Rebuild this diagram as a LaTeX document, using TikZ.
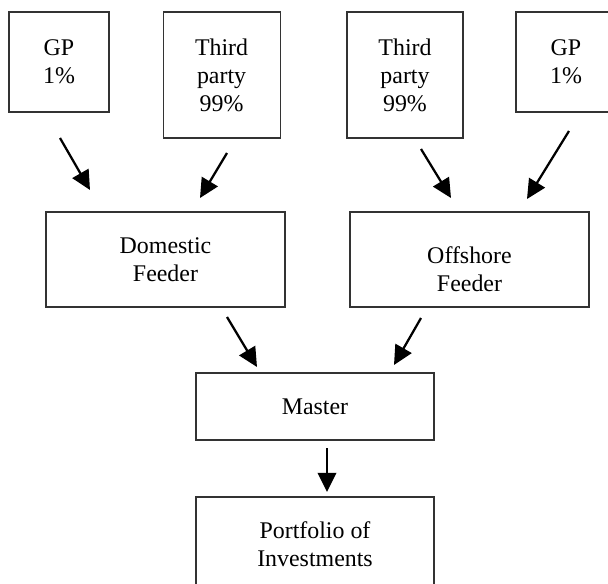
\documentclass[tikz,border=0pt]{standalone}
\usepackage{fontspec}
\setmainfont{Liberation Serif}
\usetikzlibrary{arrows.meta}

\begin{document}
\begin{tikzpicture}
    \tikzstyle{B}=[rectangle,draw=black!80,line width=0.75pt,align=center,font=\fontsize{17}{20}\selectfont]
    \tikzstyle{A}=[-{Triangle[length=0.48cm,width=0.46cm]},line width=1.6pt]

    % Frame
    \useasboundingbox (0,0) rectangle (15.2,-14.6);
    \clip (0,0) rectangle (15.2,-14.6);

    % Investors
    \node [B,minimum width=2.5cm,minimum height=2.5cm] (gpL) at (1.475,-1.55) {GP\\1\%};
    \node [B,minimum width=2.925cm,minimum height=3.15cm] (tpL) at (5.54,-1.875) {Third\\party\\99\%};
    \node [B,minimum width=2.9cm,minimum height=3.15cm] (tpR) at (10.125,-1.875) {Third\\party\\99\%};
    \node [B,minimum width=2.5cm,minimum height=2.5cm] (gpR) at (14.15,-1.55) {GP\\1\%};

    % Feeders
    \node [B,minimum width=5.975cm,minimum height=2.375cm] (dom) at (4.1375,-6.4875) {Domestic\\Feeder};
    \node [B,minimum width=5.975cm,minimum height=2.375cm,
           label={[align=center,font=\fontsize{17}{20}\selectfont,yshift=-0.25cm]center:{Offshore\\Feeder}}]
           (off) at (11.7375,-6.4875) {};

    % Master and portfolio
    \node [B,minimum width=5.95cm,minimum height=1.675cm] (master) at (7.875,-10.1625) {Master};
    \node [B,minimum width=5.95cm,minimum height=2.375cm] (port) at (7.875,-13.6125) {Portfolio of\\Investments};

    % Arrow ends
    \coordinate (gpLs) at (1.5,-3.45);
    \coordinate (domA) at (2.25,-4.75);
    \coordinate (tpLs) at (5.675,-3.825);
    \coordinate (domB) at (5.0,-4.95);
    \coordinate (tpRs) at (10.525,-3.725);
    \coordinate (offA) at (11.275,-4.95);
    \coordinate (gpRs) at (14.225,-3.275);
    \coordinate (offB) at (13.175,-4.975);
    \coordinate (doms) at (5.675,-7.925);
    \coordinate (masA) at (6.425,-9.175);
    \coordinate (offs) at (10.525,-7.95);
    \coordinate (masB) at (9.85,-9.125);
    \coordinate (mass) at (8.175,-11.2);
    \coordinate (portA) at (8.175,-12.3);

    \draw [A] (gpLs) -- (domA);
    \draw [A] (tpLs) -- (domB);
    \draw [A] (tpRs) -- (offA);
    \draw [A] (gpRs) -- (offB);
    \draw [A] (doms) -- (masA);
    \draw [A] (offs) -- (masB);
    \draw [A] (mass) -- (portA);

\end{tikzpicture}
\end{document}
